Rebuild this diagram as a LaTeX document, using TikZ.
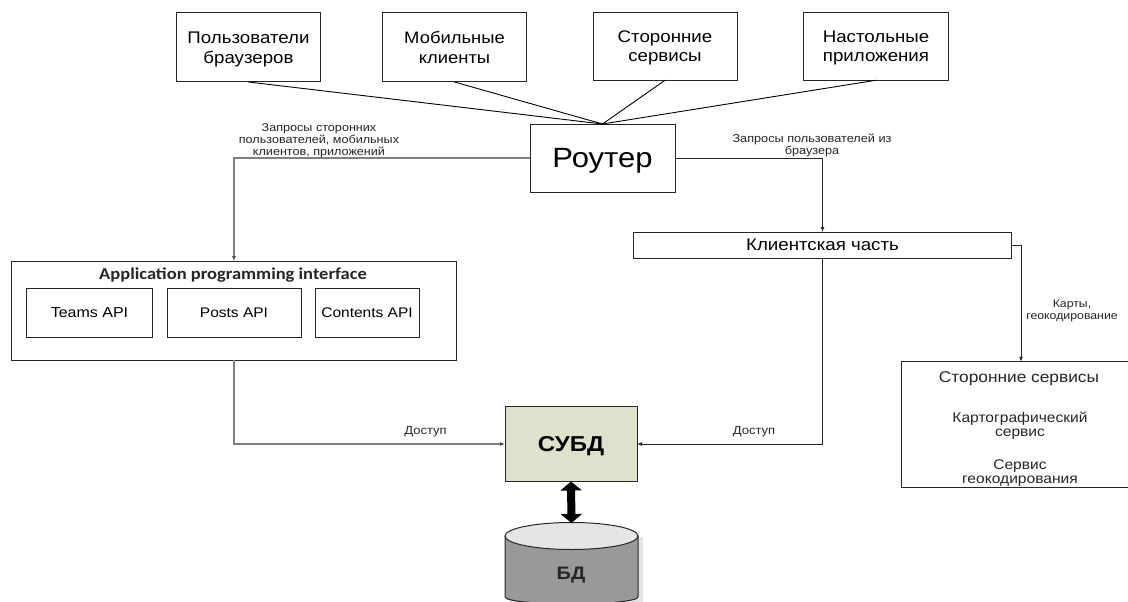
\documentclass[tikz,border=0pt]{standalone}
\usepackage{fontspec}
\usepackage{graphicx}
\setmainfont{Liberation Sans}
\newfontfamily\carl{Carlito}
\usetikzlibrary{arrows.meta}
\definecolor{subdfill}{HTML}{DDE2CC}
\newcommand{\sq}[3]{\raisebox{-2pt}[\height][\depth]{\scalebox{1}[.9]{\fontsize{#1}{#2}\selectfont\begin{tabular}{@{}c@{}}#3\end{tabular}}}}
\tikzset{
  x=1pt,y=-1pt,
  boxn/.style={draw=black!85,line width=1pt,fill=white,inner sep=0pt,outer sep=0pt,rectangle,align=center},
  lbl/.style={inner sep=0pt,outer sep=0pt,text=black!85},
  feed/.style={draw=black,line width=.9pt,line cap=round},
  flowg/.style={draw=black!50,line width=1.1pt,-{Latex[length=5pt,width=4pt,color=black!70]}},
  flowd/.style={draw=black!85,line width=.9pt,-{Latex[length=5pt,width=4pt]}},
}
\begin{document}
\begin{tikzpicture}
\useasboundingbox (0,0) rectangle (1128,602);
\fill[white] (0,0) rectangle (1128,602);
% top sources
\node[boxn,minimum width=144pt,minimum height=69pt] (b1) at (248.5,47.5) {\sq{18.7}{22}{Пользователи\\браузеров}};
\node[boxn,minimum width=144.5pt,minimum height=69pt] (b2) at (454.5,47.5) {\sq{18.4}{22}{Мобильные\\клиенты}};
\node[boxn,minimum width=144pt,minimum height=67.5pt] (b3) at (665,46.5) {\sq{18.7}{21}{Сторонние\\сервисы}};
\node[boxn,minimum width=145pt,minimum height=67.5pt] (b4) at (876,46.5) {\sq{18.7}{21}{Настольные\\приложения}};
\node[boxn,minimum width=145pt,minimum height=68pt] (router) at (602.5,158) {\sq{31}{34}{\raisebox{-1pt}[\height][\depth]{Роутер}}};
\node[boxn,minimum width=378.5pt,minimum height=26pt] (client) at (822.5,245) {\sq{18.7}{21}{Клиентская часть}};
\node[boxn,minimum width=445.5pt,minimum height=99pt] (api) at (234,310.5) {};
\node[lbl,font=\carl\bfseries] (apit) at (233,275.5) {\scalebox{1}[.9]{\fontsize{18.5}{21}\selectfont Application programming interface}};
\node[boxn,minimum width=126pt,minimum height=49pt] (teams) at (89.5,312.5) {\sq{16}{18}{Teams API}};
\node[boxn,minimum width=134pt,minimum height=49pt] (posts) at (234,312.5) {\sq{15.5}{18}{Posts API}};
\node[boxn,minimum width=104pt,minimum height=49pt] (contents) at (367,312.5) {\sq{15.5}{18}{Contents API}};
\node[boxn,fill=subdfill,minimum width=132pt,minimum height=75pt] (subd) at (571,444) {\sq{24}{28}{\bfseries СУБД}};
\node[boxn,minimum width=240pt,minimum height=125.5pt] (ext) at (1021,424.5) {};
\node[lbl] (ext1) at (1019,376.5) {\sq{17.3}{20}{Сторонние сервисы}};
\node[lbl] (ext2) at (1020,424) {\sq{15.6}{15.5}{Картографический\\сервис}};
\node[lbl] (ext3) at (1020,471.5) {\sq{15.6}{16}{Сервис\\геокодирования}};
% cylinder
\fill[black!10] (509,537) rectangle (643,602);
\draw[line width=1pt,draw=black!85,fill=black!40] (505,536) -- (505,597) arc[start angle=180,end angle=360,x radius=66.5pt,y radius=7pt] -- (638,536) -- cycle;
\draw[line width=1pt,draw=black!85,fill=black!10] (571.5,536) ellipse[x radius=66.5pt,y radius=13.5pt];
\node[inner sep=0pt,outer sep=0pt,minimum width=133pt,minimum height=79pt] (bd) at (571.5,562.5) {};
\node[lbl] (bdt) at (571,573) {\sq{20}{24}{\bfseries БД}};
% feeds
\draw[feed] (b1.south) -- (router.north);
\draw[feed] (b2.south) -- (router.north);
\draw[feed] (b3.south) -- (router.north);
\draw[feed] (b4.south) -- (router.north);
% flows
\draw[flowg] (router.west) -| (api.north);
\draw[flowd] (router.east) -| (client.north);
\draw[flowg] (api.south) |- (subd.west);
\draw[flowd] (client.south) |- (subd.east);
\draw[flowd] (client.east) -| (ext.north);
\draw[line width=8pt,{Triangle[width=21pt,length=9pt]}-{Triangle[width=21pt,length=9pt]}] (subd.south) -- (bd.north);
% labels
\node[lbl] (l1) at (319,139) {\sq{12.6}{13.3}{Запросы сторонних\\пользователей, мобильных\\клиентов, приложений}};
\node[lbl] (l2) at (812,144) {\sq{12.7}{13.3}{Запросы пользователей из\\браузера}};
\node[lbl] (l3) at (1072,309) {\sq{12.3}{13.3}{Карты,\\геокодирование}};
\node[lbl] (l4) at (425.5,430) {\sq{13}{14}{Доступ}};
\node[lbl] (l5) at (754,430) {\sq{13}{14}{Доступ}};
\end{tikzpicture}
\end{document}
